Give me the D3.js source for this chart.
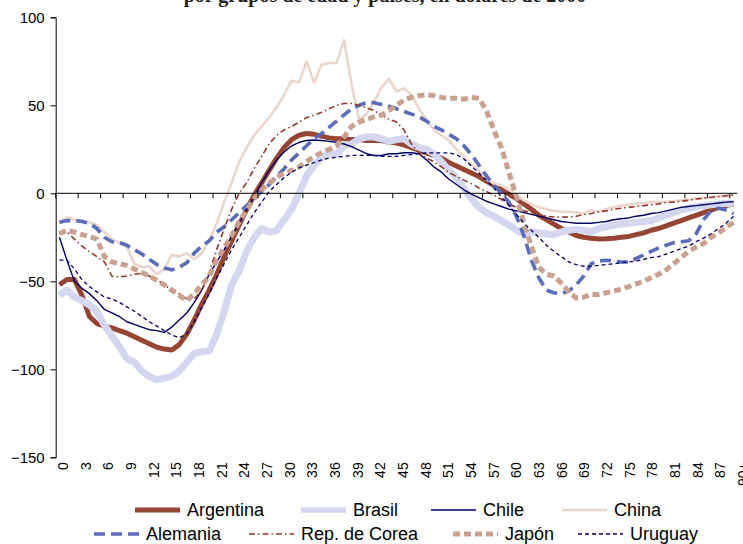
<!DOCTYPE html>
<html>
<head>
<meta charset="utf-8">
<script src="https://cdn.jsdelivr.net/npm/d3@7"></script>
<style>
  html, body { margin: 0; padding: 0; background: #fff; }
  svg { display: block; }
</style>
</head>
<body>
<div id="chart"></div>
<script>
// ---- DATA ----
const ages = d3.range(0, 90).map(String).concat(["90+"]);
const tickLabels = ["0","3","6","9","12","15","18","21","24","27","30","33","36","39","42","45","48","51","54","57","60","63","66","69","72","75","78","81","84","87","90+"];
const yTicks = [-150, -100, -50, 0, 50, 100];
const titleText = "por grupos de edad y países, en dólares de 2000";

const argentina = [-52,-49,-49,-58,-70,-74,-75.5,-76.5,-78,-79.5,-81.5,-83.5,-85.5,-87.5,-88.5,-89,-86,-80,-72,-63,-55,-46,-36,-27,-18,-9,-1,6,13,20,26,30.5,33,34,33.5,32.5,31.5,31,31,30.5,30.5,30,30,30,29,28.5,27.5,26,24.5,23,21.5,20,17.5,15.5,13.5,11.5,9.5,7,4.5,2,-0.5,-3,-6,-9,-12.5,-15,-17.5,-20,-22,-24,-25,-25.5,-26,-25.8,-25.5,-25,-24.5,-23.5,-22.5,-21,-20,-18.5,-17,-15.5,-14,-12.5,-11,-9.5,-8,-7,-6];
const brasil = [-58,-55,-59,-61,-63.5,-67,-75,-81,-87,-94,-96,-101,-104,-106,-105,-104,-101,-96,-91,-90,-89.5,-80,-67,-52,-44,-33,-25,-20,-22,-21,-15,-9,0,10,16,20,23,22,27,28,31,32,32,31,29.5,30.5,31,28,26,25,22.5,18,13,9,3,-3,-8,-11,-13,-15.5,-18,-21,-23,-22,-22.5,-23,-23.5,-22,-21,-20.5,-21,-22,-20,-19,-18,-17.5,-17,-16.5,-16,-15.5,-14,-12.5,-11,-9.5,-8.5,-7.5,-7,-6.5,-6,-5.8,-5.7];
const chile = [-25,-38,-50,-54,-57,-61,-66,-68,-70,-73,-74.5,-76,-77.5,-78,-79,-76,-72,-68,-62,-55,-46,-39,-32,-24,-17,-9,-2,6,13,19,23.5,27,29,30,30.3,30,29.5,29,28,26.5,24.5,22.5,21.5,21.5,22.5,22.5,23,23,22.5,19,15,12,8,5,2,-0.5,-2.5,-4.5,-6,-7.5,-9,-10,-11,-12,-13,-14,-15,-16,-16.5,-17,-17,-17,-16.5,-16,-15,-14.5,-14,-13,-12.5,-11.5,-11,-10,-9,-8,-7.5,-7,-6.5,-6,-5.5,-5,-4.8];
const china = [-17,-13.5,-15,-15.5,-16.5,-18,-22,-26,-28,-30.5,-40,-42,-41.5,-46,-43,-35,-36,-34,-37.5,-34,-27,-17,-5,6,18,26,33,38,43,49,56,64,63,75,63,73,74,74,87,62,42,45,52,60,65,58,59.5,56,48,42,36,33,30,25,21,16.5,13,8,5.5,4.5,2.5,-1,-4,-6,-8,-9,-10,-10.5,-10.5,-11,-11.5,-9.5,-10.5,-9,-8,-7,-6.5,-5.7,-5.5,-5,-5,-4.8,-4.5,-4,-3.5,-3,-2.8,-2.5,-2,-1.5,-1];
const alemania = [-16.5,-15.5,-15.5,-16,-17,-20,-25,-27.5,-28,-29.5,-32,-34.5,-37.5,-40.5,-42.5,-43.5,-42,-39.5,-34,-30,-27,-22,-19,-15,-11,-7,-3,1,5,9.5,14,19,23,27,31,34,37.5,41,44.5,48,50,51.5,51.5,50.5,49.5,48,46.5,45,43.5,41,38,36,33.5,31,27,22,16,10,4.5,0,-5,-13,-24,-38,-48,-55,-56.5,-57,-55.5,-52,-47,-40,-38.5,-38,-38.5,-39,-39,-37,-35,-33,-31,-29.5,-28,-27.5,-27,-23,-15,-10,-8.5,-9.5,-11.5];
const corea = [-23,-22,-26,-30,-33,-36,-39,-47,-47.5,-47,-46,-45.5,-47,-49,-52,-55,-57,-60,-60,-55,-45,-32,-20,-9,0,6,14,21,28,33,36,38,40.5,43,44.5,46,48,50,51,51,50,48.5,47,44.5,42,40.5,36,28,23,20,18,15,12,9.5,7.5,5.5,3,1,-1,-3.5,-6,-8,-10,-11,-12,-13,-13.5,-13.5,-13.5,-13,-12,-11.5,-10.5,-10,-9,-8.5,-8,-7.5,-7,-6.5,-6,-5.2,-5,-4.5,-4,-3.2,-2.8,-2.2,-1.8,-1.4,-1];
const japon = [-23,-21,-22,-23.5,-24.5,-26,-36,-39,-40,-41,-43,-45,-47,-49.5,-52,-55,-58,-61,-57,-52,-47,-38,-31,-24,-16,-9.5,-3,2,6,9,11.5,13,15,18,21,23,25,27,32,38,40.5,42,43.5,44.5,47,50,53,54.5,55.5,56,55.5,54.5,54,54,53.5,54.5,54,47,36,26,12,-2,-17,-30,-42,-46,-47,-51,-56,-59.5,-59,-57.5,-57.5,-56.5,-55.5,-54.5,-53,-51.5,-50,-48,-46,-43.5,-40,-36.5,-33,-30.5,-28.5,-25,-22.5,-19.5,-16.5];
const uruguay = [-38,-38,-43,-49,-53,-56,-59,-60,-62,-64.5,-67,-70,-73,-75.5,-78,-80.5,-82,-80,-73,-65,-57,-48,-40,-32,-25,-18,-11,-5,1,5,9,12,14.5,16,17.5,19,20,20.5,21,21.5,21.5,21.5,21.5,21,21,21,21.5,22,22.5,23,23,23,23,22,19.5,15.5,11.5,7.5,3,-2,-7,-12,-17,-21,-25,-29.5,-33,-36,-39,-40.5,-41.5,-41.5,-41,-40.5,-40,-39.5,-39,-38.5,-37.5,-36.5,-36,-34.5,-33,-31.5,-30,-27.5,-25.5,-23,-20,-17,-13];

const seriesNames = ["Argentina","Brasil","Chile","China","Alemania","Rep. de Corea","Japón","Uruguay"];
const seriesValues = [argentina, brasil, chile, china, alemania, corea, japon, uruguay];

// ---- STYLES ----
const styles = {
  "Argentina":     { color: "#964433", width: 5,   dash: null },
  "Brasil":        { color: "#d4d7ef", width: 7,   dash: null },
  "Chile":         { color: "#000066", width: 1.4, dash: null },
  "China":         { color: "#ebd6cd", width: 2.6, dash: null },
  "Alemania":      { color: "#5b6cb8", width: 3.6, dash: "11,6" },
  "Rep. de Corea": { color: "#8e3b2b", width: 1.6, dash: "6,3,1.5,3" },
  "Japón":         { color: "#c9a191", width: 5,   dash: "7,4" },
  "Uruguay":       { color: "#000066", width: 1.3, dash: "4,3" }
};

const W = 743, H = 544;
const plot = { left: 55.7, right: 737.3, top: 17.3, bottom: 457.3 };

const svg = d3.select("#chart").append("svg")
  .attr("width", W).attr("height", H)
  .attr("font-family", "'Liberation Sans', Arial, sans-serif");

const x = d3.scaleBand().domain(ages).range([plot.left, plot.right]).padding(0);
const y = d3.scaleLinear().domain([-150, 100]).range([plot.bottom, plot.top]);
const cx = a => x(a) + x.bandwidth() / 2;

// Title (cut at top edge, as in the reference)
svg.append("text")
  .attr("x", 385).attr("y", 1.5)
  .attr("text-anchor", "middle")
  .attr("font-family", "'Liberation Serif', 'Times New Roman', serif")
  .attr("font-weight", "bold")
  .attr("font-size", 20)
  .attr("fill", "#222")
  .text(titleText);

// Lines
const line = d3.line().x(d => cx(d.age)).y(d => y(d.v));
seriesNames.forEach((name, i) => {
  const st = styles[name];
  const data = ages.map((a, j) => ({ age: a, v: seriesValues[i][j] }));
  svg.append("path")
    .datum(data)
    .attr("fill", "none")
    .attr("stroke", st.color)
    .attr("stroke-width", st.width)
    .attr("stroke-dasharray", st.dash)
    .attr("stroke-linejoin", "round")
    .attr("d", line);
});

// Y axis
const yAxis = d3.axisLeft(y).tickValues(yTicks).tickSize(5).tickPadding(6);
const gy = svg.append("g").attr("transform", `translate(${plot.left},0)`).call(yAxis);
gy.select(".domain").attr("stroke", "#000").attr("stroke-width", 1);
gy.selectAll(".tick line").attr("stroke", "#000");
gy.selectAll(".tick text").attr("font-size", 15).attr("fill", "#000")
  .attr("font-family", "'Liberation Sans', Arial, sans-serif");

// X axis line at zero with ticks every 3 categories
const xAxis = d3.axisBottom(x)
  .tickValues(tickLabels)
  .tickSize(5)
  .tickFormat(() => "");
const gx = svg.append("g").attr("transform", `translate(0,${y(0)})`).call(xAxis);
gx.select(".domain").attr("stroke", "#000").attr("stroke-width", 1)
  .attr("d", `M${plot.left},0H${plot.right}`);
gx.selectAll(".tick").attr("transform", d => `translate(${x(d)},0)`);
gx.selectAll(".tick line").attr("stroke", "#000");

// X labels at bottom, rotated
svg.append("g").selectAll("text")
  .data(tickLabels)
  .join("text")
  .attr("transform", (d, i) => `translate(${cx(d) + 3.5 + i * 0.2},${plot.bottom + 5}) rotate(-90)`)
  .attr("text-anchor", "end")
  .attr("dy", "0.35em")
  .attr("font-size", 14)
  .attr("fill", "#000")
  .text(d => d);

// Legend
const legendRows = [
  [ ["Argentina", 135], ["Brasil", 301], ["Chile", 431], ["China", 562] ],
  [ ["Alemania", 94], ["Rep. de Corea", 249], ["Japón", 453], ["Uruguay", 578] ]
];
const rowY = [510, 534];
legendRows.forEach((row, r) => {
  row.forEach(([name, lx]) => {
    const st = styles[name];
    const g = svg.append("g");
    g.append("line")
      .attr("x1", lx).attr("x2", lx + 45)
      .attr("y1", rowY[r]).attr("y2", rowY[r])
      .attr("stroke", st.color)
      .attr("stroke-width", Math.min(st.width, 5.5))
      .attr("stroke-dasharray", st.dash);
    g.append("text")
      .attr("x", lx + 52).attr("y", rowY[r])
      .attr("dy", "0.35em")
      .attr("font-size", 18)
      .attr("fill", "#000")
      .text(name);
  });
});
</script>
</body>
</html>
